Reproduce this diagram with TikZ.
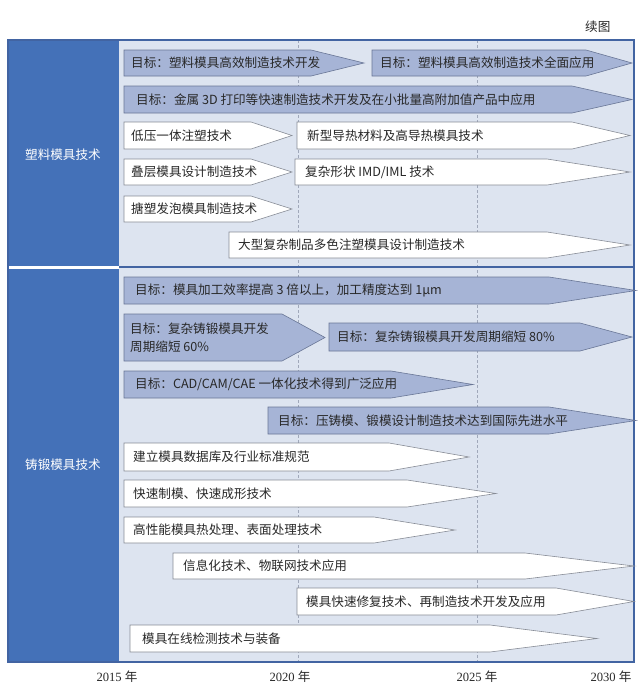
\documentclass[tikz,border=0pt]{standalone}
\usepackage{fontspec}
\setmainfont{Liberation Serif}
\newfontfamily\cjk{Noto Sans CJK SC}
\usetikzlibrary{positioning}

\definecolor{colblue}{RGB}{68,113,184}
\definecolor{panel}{RGB}{221,228,240}
\definecolor{goalfill}{RGB}{166,180,214}
\definecolor{goaledge}{RGB}{105,118,150}
\definecolor{taskedge}{RGB}{135,140,150}
\definecolor{framecol}{RGB}{66,100,162}
\definecolor{gridcol}{RGB}{160,168,186}
\definecolor{txtcol}{RGB}{40,40,40}

% style, name, left, head base, tip, top, bottom, text inset, text
\newcommand{\roadarrow}[9]{%
  \draw[#1] (#3,#6) -- (#4,#6) -- (#5,{(#6+#7)/2}) -- (#4,#7) -- (#3,#7) -- cycle;
  \node[lbl] (#2) at (#3+#8,{(#6+#7)/2}) {#9};
}

\begin{document}
\begin{tikzpicture}[x=1pt, y=-1pt,
    goalbar/.style={fill=goalfill, draw=goaledge, line width=0.6pt},
    taskbar/.style={fill=white, draw=taskedge, line width=0.6pt},
    lbl/.style={anchor=west, inner sep=0pt, align=left, text=txtcol,
      font=\cjk\fontsize{12.6}{18}\selectfont},
    seclbl/.style={text=white, font=\cjk\fontsize{12.6}{15}\selectfont},
    yearlbl/.style={text=txtcol, font=\fontsize{12.6}{15}\selectfont},
    grid line/.style={draw=gridcol, densely dashed, line width=0.5pt},
    frame/.style={draw=framecol, line width=1.2pt}]
  \useasboundingbox (0,0) rectangle (643,691);

  \fill[panel] (119,40) rectangle (634,662);
  \fill[colblue] (8,40) rectangle (119,266);
  \fill[colblue] (8,269) rectangle (119,662);
  \draw[grid line] (298,40) -- (298,662);
  \draw[grid line] (477,40) -- (477,662);
  \draw[frame] (119,267) -- (634,267);
  \draw[frame] (8,40) rectangle (634,662);

  \node[lbl] (cont) at (585,27) {续图};
  \node[seclbl] (sec1) at (63,155) {塑料模具技术};
  \node[seclbl] (sec2) at (63,465) {铸锻模具技术};

  \roadarrow{goalbar}{p1a}{124}{311}{364}{50}{76}{7}{目标：塑料模具高效制造技术开发}
  \roadarrow{goalbar}{p1b}{372}{586}{632}{50}{76}{8}{目标：塑料模具高效制造技术全面应用}
  \roadarrow{goalbar}{p2}{124}{572}{632}{86}{113}{12}{目标：金属 3D 打印等快速制造技术开发及在小批量高附加值产品中应用}
  \roadarrow{taskbar}{p3a}{124}{251}{292}{122}{149}{7}{低压一体注塑技术}
  \roadarrow{taskbar}{p3b}{297}{572}{630}{122}{149}{10}{新型导热材料及高导热模具技术}
  \roadarrow{taskbar}{p4a}{124}{251}{292}{159}{185}{7}{叠层模具设计制造技术}
  \roadarrow{taskbar}{p4b}{295}{547}{630}{159}{185}{10}{复杂形状 IMD/IML 技术}
  \roadarrow{taskbar}{p5}{124}{251}{292}{196}{222}{7}{搪塑发泡模具制造技术}
  \roadarrow{taskbar}{p6}{229}{547}{630}{232}{258}{9}{大型复杂制品多色注塑模具设计制造技术}

  \roadarrow{goalbar}{f1}{124}{549}{636}{277}{304}{11}{目标：模具加工效率提高 3 倍以上，加工精度达到 1μm}
  \roadarrow{goalbar}{f2a}{124}{282}{325}{314}{361}{6}{目标：复杂铸锻模具开发\\周期缩短 60\%}
  \roadarrow{goalbar}{f2b}{329}{580}{632}{323}{351}{8}{目标：复杂铸锻模具开发周期缩短 80\%}
  \roadarrow{goalbar}{f3}{124}{391}{473}{371}{398}{11}{目标：CAD/CAM/CAE 一体化技术得到广泛应用}
  \roadarrow{goalbar}{f4}{268}{549}{636}{407}{434}{10}{目标：压铸模、锻模设计制造技术达到国际先进水平}
  \roadarrow{taskbar}{f5}{124}{389}{469}{443}{471}{9}{建立模具数据库及行业标准规范}
  \roadarrow{taskbar}{f6}{124}{407}{496}{480}{507}{9}{快速制模、快速成形技术}
  \roadarrow{taskbar}{f7}{124}{374}{455}{517}{543}{9}{高性能模具热处理、表面处理技术}
  \roadarrow{taskbar}{f8}{173}{525}{634}{553}{579}{10}{信息化技术、物联网技术应用}
  \roadarrow{taskbar}{f9}{297}{556}{634}{588}{615}{9}{模具快速修复技术、再制造技术开发及应用}
  \roadarrow{taskbar}{f10}{130}{490}{597}{625}{652}{12}{模具在线检测技术与装备}

  \node[yearlbl] (y15) at (117,677) {2015 {\cjk 年}};
  \node[yearlbl] (y20) at (290,677) {2020 {\cjk 年}};
  \node[yearlbl] (y25) at (477,677) {2025 {\cjk 年}};
  \node[yearlbl] (y30) at (611,677) {2030 {\cjk 年}};
\end{tikzpicture}
\end{document}
